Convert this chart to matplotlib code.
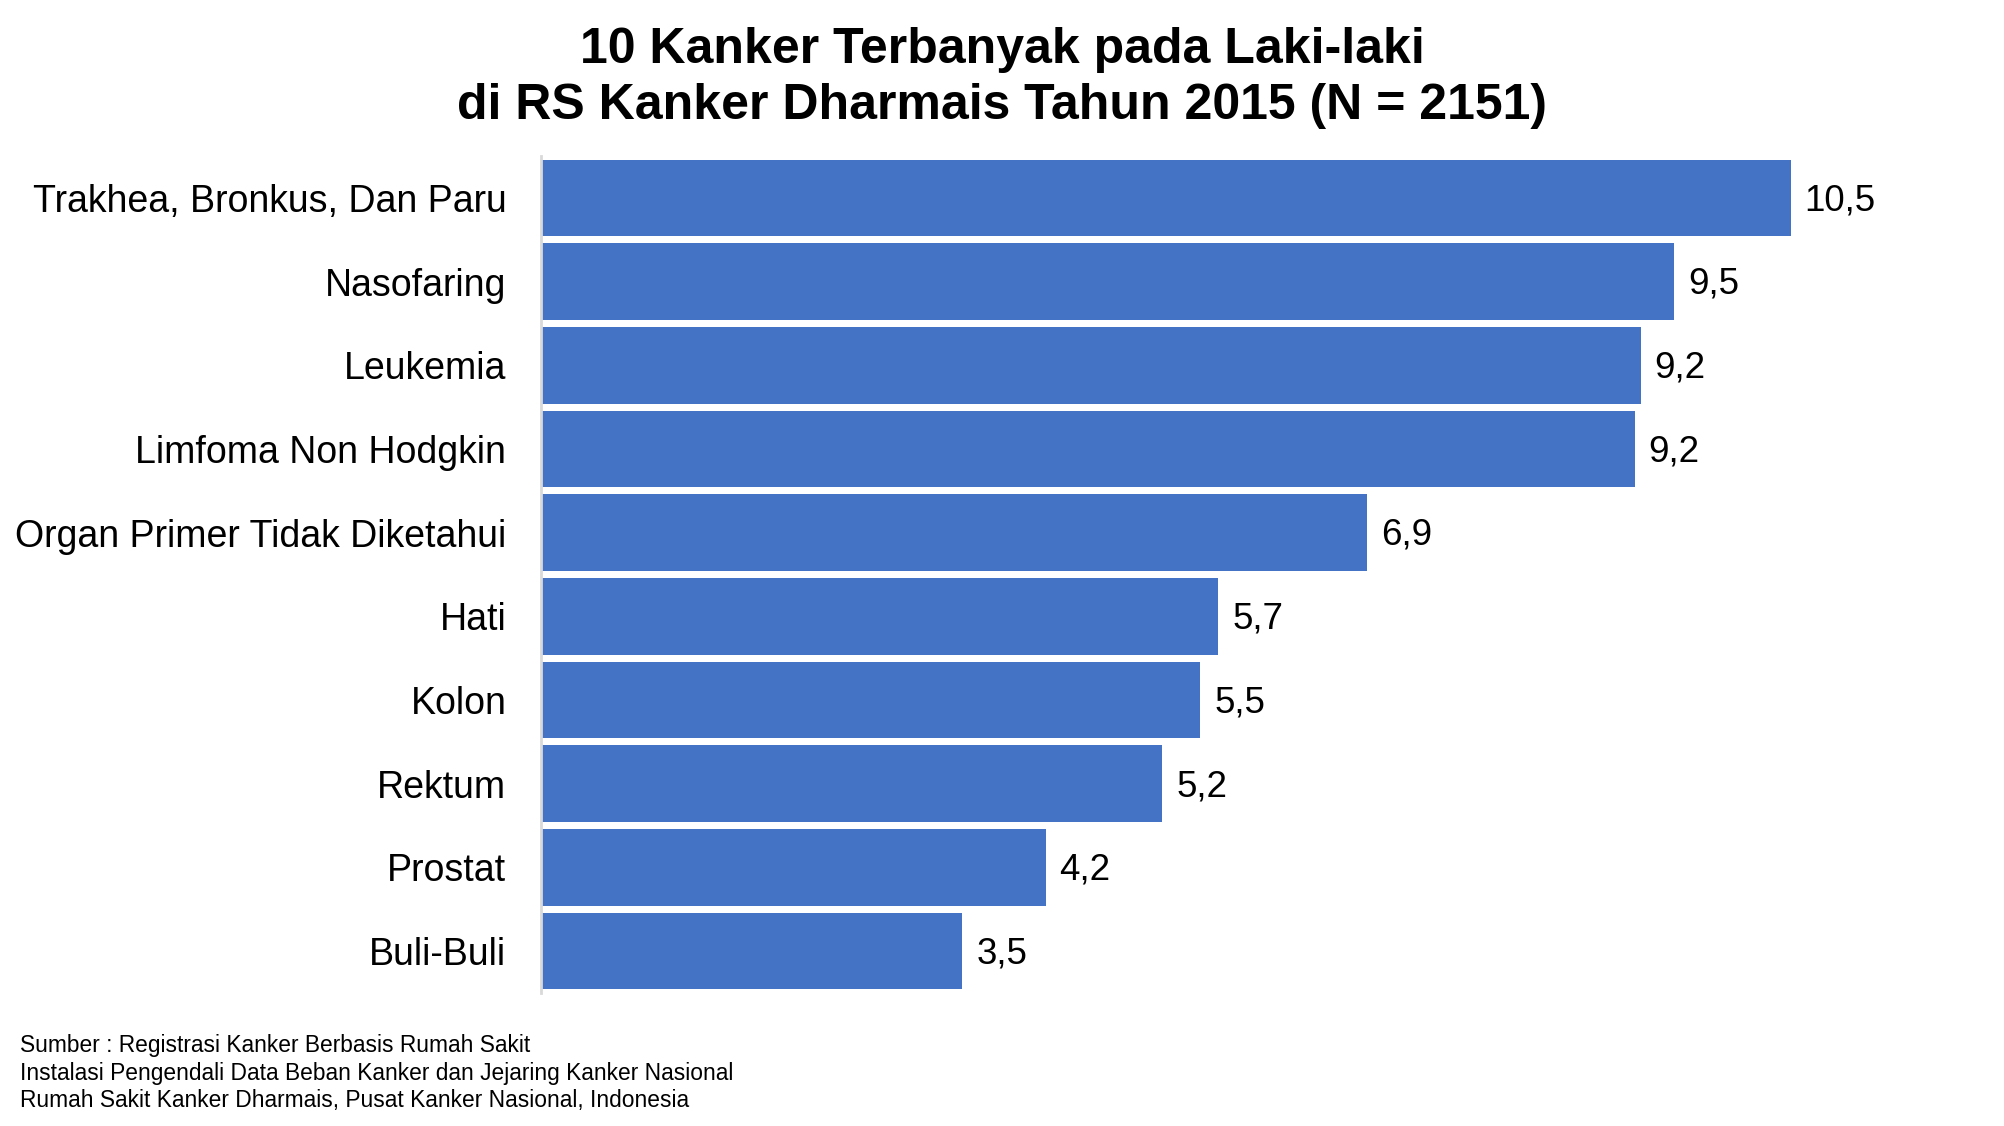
import matplotlib
matplotlib.use("Agg")
import matplotlib.pyplot as plt

categories = ["Trakhea, Bronkus, Dan Paru", "Nasofaring", "Leukemia",
              "Limfoma Non Hodgkin", "Organ Primer Tidak Diketahui", "Hati",
              "Kolon", "Rektum", "Prostat", "Buli-Buli"]
values = [10.5, 9.52, 9.24, 9.19, 6.94, 5.69, 5.54, 5.22, 4.24, 3.54]

title_lines = ["10 Kanker Terbanyak pada Laki-laki",
               "di RS Kanker Dharmais Tahun 2015 (N = 2151)"]
source_lines = ["Sumber : Registrasi Kanker Berbasis Rumah Sakit",
                "Instalasi Pengendali Data Beban Kanker dan Jejaring Kanker Nasional",
                "Rumah Sakit Kanker Dharmais, Pusat Kanker Nasional, Indonesia"]

plt.rcParams['font.family'] = ['Liberation Sans', 'DejaVu Sans']

fig = plt.figure(figsize=(20.04, 11.26), dpi=100)
ax = fig.add_axes([0.270, 0.1181, 0.7126, 0.7434])

pos = list(range(len(categories)))
bars = ax.barh(pos, values, height=0.915, color="#4472C4")
ax.set_ylim(9.5, -0.5)
ax.set_xlim(0, 12)
ax.set_yticks(pos)
ax.set_yticklabels(categories, fontsize=27)
ax.tick_params(axis='y', length=0, pad=25)
ax.set_xticks([])
for s in ["top", "right", "bottom"]:
    ax.spines[s].set_visible(False)
ax.spines["left"].set_color("#d9d9d9")
ax.spines["left"].set_linewidth(2)

for b, v in zip(bars, values):
    ax.annotate(f"{v:.1f}".replace(".", ","),
                xy=(b.get_width(), b.get_y() + b.get_height() / 2),
                xytext=(10, -2), textcoords="offset points",
                va="center", ha="left", fontsize=26.5)

for y, t in zip([0.9555, 0.9055], title_lines):
    fig.text(0.5, y, t, ha="center", va="center", fontsize=36,
             fontweight="bold")
for y, t in zip([0.0717, 0.0468, 0.0229], source_lines):
    fig.text(0.01, y, t, ha="left", va="center", fontsize=16.4)

fig.savefig("out.png", dpi=100)
